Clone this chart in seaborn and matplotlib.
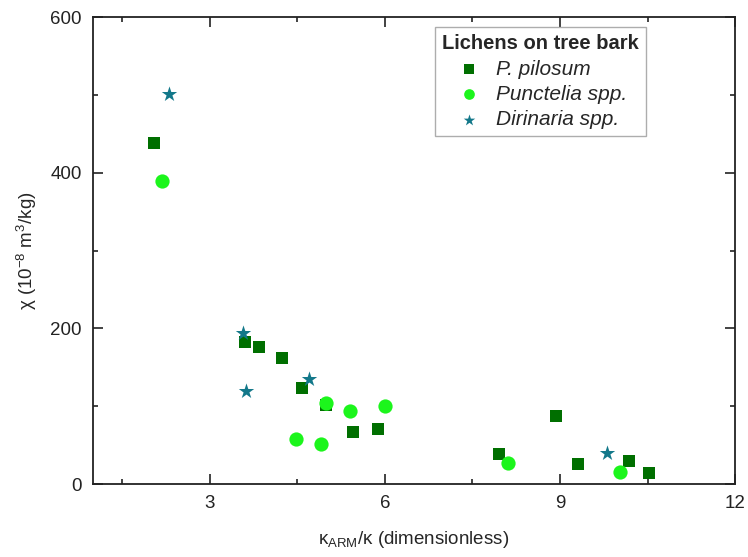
import matplotlib
matplotlib.use("Agg")
import matplotlib.pyplot as plt
from matplotlib.ticker import MultipleLocator
import seaborn as sns
import pandas as pd

# Data
pilosum_x = [2.05, 3.61, 3.84, 4.24, 4.58, 5.00, 5.45, 5.89, 7.95, 8.93, 9.31, 10.18, 10.53]
pilosum_y = [439, 182, 176, 162, 124, 102, 67, 71, 39, 87, 26, 29, 14]
punctelia_x = [2.18, 4.48, 4.90, 4.99, 5.41, 6.00, 8.11, 10.02]
punctelia_y = [389, 58, 52, 104, 94, 100, 27, 15]
dirinaria_x = [2.31, 3.58, 3.62, 4.70, 9.81]
dirinaria_y = [502, 194, 119, 135, 40]
species = ["P. pilosum", "Punctelia spp.", "Dirinaria spp."]

df = pd.concat([
    pd.DataFrame({"x": pilosum_x, "y": pilosum_y, "sp": species[0]}),
    pd.DataFrame({"x": punctelia_x, "y": punctelia_y, "sp": species[1]}),
    pd.DataFrame({"x": dirinaria_x, "y": dirinaria_y, "sp": species[2]}),
], ignore_index=True)

sns.set_style("white")
plt.rcParams["font.family"] = ["Liberation Sans", "DejaVu Sans"]
plt.rcParams["mathtext.fontset"] = "custom"
plt.rcParams["mathtext.rm"] = "Liberation Sans"
plt.rcParams["mathtext.it"] = "Liberation Sans:italic"
plt.rcParams["mathtext.default"] = "regular"

fig = plt.figure(figsize=(7.48, 5.57), dpi=100)
ax = fig.add_axes([0.124, 0.131, 0.859, 0.838])

palette = {species[0]: "#006f00", species[1]: "#1cf51c", species[2]: "#13788a"}
markers = {species[0]: "s", species[1]: "o", species[2]: "*"}
sizes_map = {species[0]: 85, species[1]: 105, species[2]: 135}

for sp in species:
    sub = df[df["sp"] == sp]
    sns.scatterplot(data=sub, x="x", y="y", color=palette[sp], marker=markers[sp],
                    s=sizes_map[sp], linewidth=0, ax=ax, label=sp, zorder=3)

ax.set_xlim(1, 12)
ax.set_ylim(0, 600)
ax.xaxis.set_major_locator(MultipleLocator(3))
ax.xaxis.set_minor_locator(MultipleLocator(1.5))
ax.yaxis.set_major_locator(MultipleLocator(200))
ax.yaxis.set_minor_locator(MultipleLocator(100))
ax.set_xticks([3, 6, 9, 12])
ax.set_xticklabels(["3", "6", "9", "12"])

ax.tick_params(which="both", direction="in", top=True, right=True, bottom=True, left=True,
               labelsize=13.5, colors="#222222", width=1.2)
ax.tick_params(which="major", length=7, pad=8)
ax.tick_params(which="minor", length=3.5)
for s in ax.spines.values():
    s.set_visible(True)
    s.set_linewidth(1.3)
    s.set_color("#222222")

ax.set_xlabel(r"$\kappa_{ARM}/\kappa$ (dimensionless)", fontsize=13.5, labelpad=12)
ax.set_ylabel(r"$\chi$ ($10^{-8}$ m$^{3}$/kg)", fontsize=13.5, labelpad=8)

handles, labels = ax.get_legend_handles_labels()
leg = ax.legend(handles, labels, title="Lichens on tree bark", loc="upper left",
                bbox_to_anchor=(0.532, 0.979), borderaxespad=0, frameon=True, fancybox=False,
                edgecolor="#999999", fontsize=15, title_fontsize=14.5,
                handletextpad=0.5, borderpad=0.35, labelspacing=0.3, handlelength=1.5,
                markerscale=0.75)
leg.get_title().set_fontweight("bold")
for t in leg.get_texts():
    t.set_fontstyle("italic")
leg.get_frame().set_linewidth(1.0)

fig.savefig("out.png", dpi=100)
